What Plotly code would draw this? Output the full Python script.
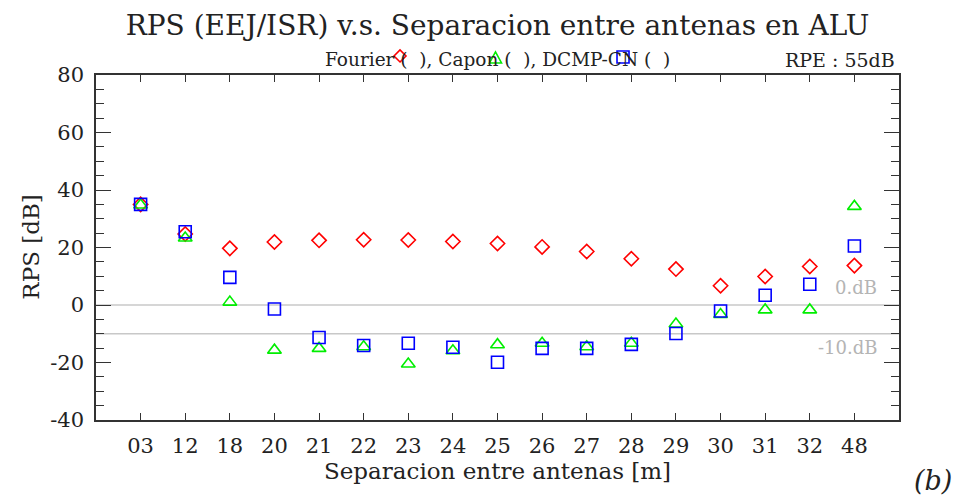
import plotly.graph_objects as go

# ---------------------------------------------------------------- data
separacion = ["03", "12", "18", "20", "21", "22", "23", "24", "25",
              "26", "27", "28", "29", "30", "31", "32", "48"]
fourier = [35.0, 24.7, 19.7, 21.9, 22.5, 22.7, 22.6, 22.1, 21.4,
           20.2, 18.6, 16.1, 12.5, 6.7, 9.9, 13.4, 13.7]
capon = [34.8, 23.3, 1.0, -15.7, -15.1, -14.5, -20.5, -15.9, -13.8,
         -13.3, -14.5, -13.3, -6.6, -3.3, -1.7, -1.7, 34.3]
dcmp_cn = [35.0, 25.5, 9.6, -1.4, -11.3, -14.1, -13.3, -14.7, -19.9,
           -15.1, -15.1, -13.7, -9.9, -2.1, 3.4, 7.2, 20.5]
ref_levels = [0, -10]
ref_labels = ["0.dB", "-10.dB"]
y_ticks = [80, 60, 40, 20, 0, -20, -40]
y_ticktext = ["80", "60", "40", "20", "0", "-20", "-40"]

FONT = "DejaVu Serif"
idx = list(range(len(separacion)))

fig = go.Figure()
series = [
    (fourier, "diamond-open", "#ff0000", 11),
    (capon, "triangle-up-open", "#00ee00", 12),
    (dcmp_cn, "square-open", "#0000ff", 12),
]
for vals, sym, col, size in series:
    fig.add_trace(go.Scatter(
        x=idx, y=vals, mode="markers", showlegend=False,
        marker=dict(symbol=sym, size=size, color=col, line=dict(color=col, width=1.6)),
    ))

# reference levels (0 dB, -10 dB)
for lvl, lab, shift in zip(ref_levels, ref_labels, [18, -14]):
    fig.add_shape(type="line", xref="paper", x0=0, x1=1, y0=lvl, y1=lvl,
                  line=dict(color="#c8c8c8", width=1.5), layer="below")
    fig.add_annotation(text=lab, xref="paper", x=0.975, y=lvl, yshift=shift,
                       xanchor="right", yanchor="middle", showarrow=False,
                       font=dict(family=FONT, size=18, color="#b4b4b4"))

axis_common = dict(showline=True, linecolor="#333333", linewidth=1.5, mirror="allticks",
                   ticks="inside", tickcolor="#333333", showgrid=False, zeroline=False)
fig.update_xaxes(**axis_common, range=[-1, 17], tickvals=idx, ticktext=separacion,
                 ticklen=7, tickwidth=1.2, ticklabelstandoff=6,
                 tickfont=dict(family=FONT, size=21, color="#222222"))
fig.update_yaxes(**axis_common, range=[-40, 80], tickvals=y_ticks, ticktext=y_ticktext,
                 ticklen=15, tickwidth=1.2,
                 minor=dict(dtick=5, ticks="inside", ticklen=8, tickcolor="#333333"),
                 ticklabelstandoff=6,
                 tickfont=dict(family=FONT, size=21, color="#222222"))

# texts
fig.add_annotation(text="Separacion entre antenas [m]", xref="paper", yref="paper",
                   x=0.5, y=-0.147, showarrow=False, yanchor="middle",
                   font=dict(family=FONT, size=23, color="#222222"))
fig.add_annotation(text="RPS [dB]", xref="paper", yref="paper", x=-0.082, y=0.5,
                   textangle=-90, showarrow=False, xanchor="center",
                   font=dict(family=FONT, size=23, color="#222222"))
fig.add_annotation(text="Fourier (  ), Capon (  ), DCMP-CN (  )", xref="paper", yref="paper",
                   x=0.5, y=1.0435, showarrow=False, yanchor="middle",
                   font=dict(family=FONT, size=18.5, color="#222222"))
fig.add_annotation(text="RPE : 55dB", xref="paper", yref="paper", x=0.9975, y=1.0435,
                   showarrow=False, xanchor="right", yanchor="middle",
                   font=dict(family=FONT, size=19, color="#222222"))
fig.add_annotation(text="<i>(b)</i>", xref="paper", yref="paper", x=1.068, y=-0.174,
                   showarrow=False, yanchor="middle",
                   font=dict(family=FONT, size=27, color="#222222"))

# legend symbols sitting over the header text
sym_paths = [
    (0.3786, 1.0551, "M 0 -6 L 6 0 L 0 6 L -6 0 Z", "#ff0000"),
    (0.4975, 1.0493, "M -6 -5 L 6 -5 L 0 6 Z", "#00ee00"),
    (0.6563, 1.0522, "M -6 -6 L 6 -6 L 6 6 L -6 6 Z", "#0000ff"),
]
for xa, ya, path, col in sym_paths:
    fig.add_shape(type="path", xref="paper", yref="paper", xsizemode="pixel", ysizemode="pixel",
                  xanchor=xa, yanchor=ya, path=path, line=dict(color=col, width=1.6))

# page body keeps its default 8px margin, so the figure is 8px smaller each way
fig.update_layout(
    width=963, height=496,
    margin=dict(l=88, r=72, t=67, b=84),
    paper_bgcolor="white", plot_bgcolor="white",
    title=dict(text="RPS (EEJ/ISR) v.s. Separacion entre antenas en ALU",
               xref="paper", x=0.5, xanchor="center", y=0.966, yanchor="middle",
               font=dict(family=FONT, size=28, color="#222222")),
)

fig.write_html("out.html")
